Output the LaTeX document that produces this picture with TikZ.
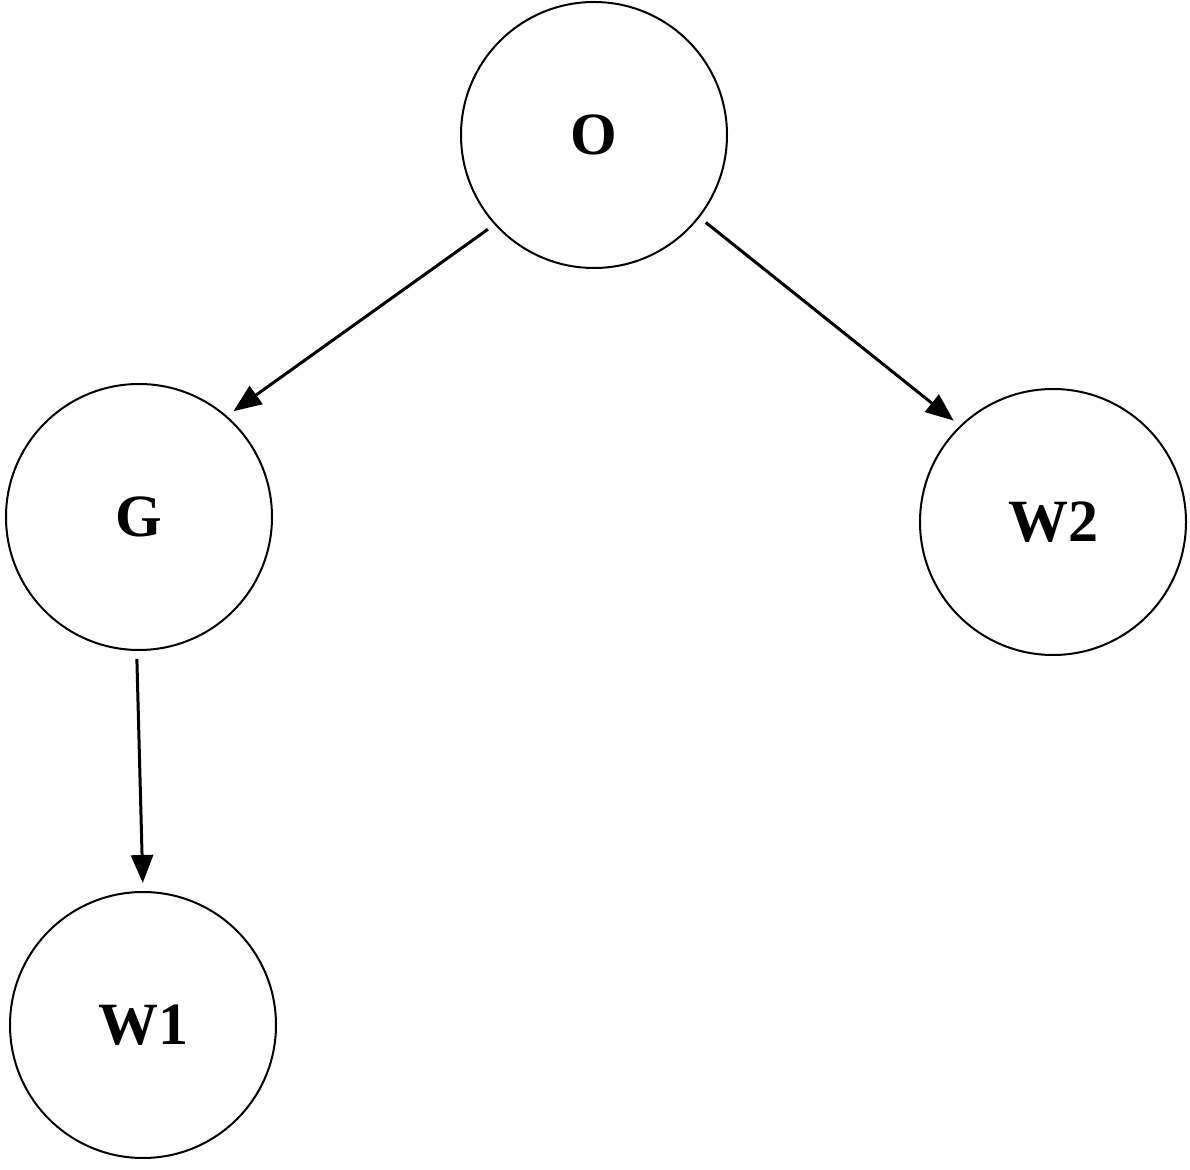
\documentclass[tikz,border=0pt]{standalone}
\usepackage{fontspec}
\setmainfont{Liberation Serif}
\usetikzlibrary{arrows.meta}
\begin{document}
\begin{tikzpicture}[x=0.5pt,y=-0.5pt,
  st/.style={circle,draw,line width=1pt,minimum size=133pt,inner sep=0pt,font=\fontsize{30}{36}\selectfont\bfseries},
  ar/.style={line width=1.5pt,-{Triangle[length=14pt,width=11pt]},shorten <=4pt,shorten >=4pt}]
\useasboundingbox (0,0) rectangle (1190,1170);
\node[st] (O) at (594,135) {O};
\node[st] (G) at (139,517) {G};
\node[st] (W2) at (1053,522) {W2};
\node[st] (W1) at (143,1025) {W1};
\draw[ar] (O.222) -- (G.49);
\draw[ar] (O.322) -- (W2.134);
\draw[ar] (G.269) -- (W1.90);
\end{tikzpicture}
\end{document}
